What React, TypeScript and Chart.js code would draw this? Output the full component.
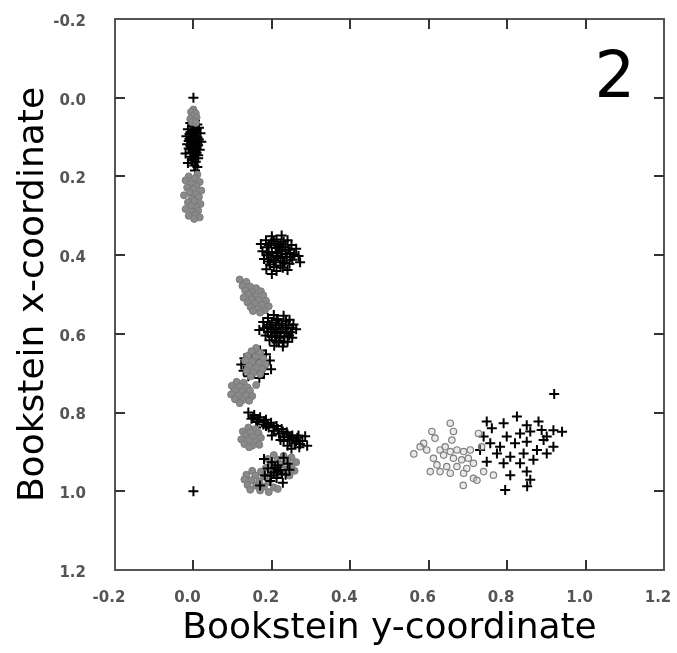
import React, { useEffect, useRef } from "react";
import { Chart, registerables } from "chart.js";

Chart.register(...registerables);

type P = [number, number];

// axis setup (both axes run -0.2 .. 1.2 in steps of 0.2; vertical axis reversed)
const AXIS_MIN = -0.2;
const AXIS_MAX = 1.2;
const AXIS_STEP = 0.2;
const xTitle = "Bookstein y-coordinate";
const yTitle = "Bookstein x-coordinate";
const panelLabel = "2";

// ---- black "+" specimens, [horizontal, vertical] ----
const crossSingles: P[] = [[0, 0], [0.004, 0.185], [0, 1.0]];

const crossLmA: P[] = [
  [0.004, 0.058], [-0.008, 0.064], [0.010, 0.068], [-0.002, 0.072], [0.014, 0.076], [-0.014, 0.080],
  [0.006, 0.083], [-0.006, 0.088], [0.018, 0.090], [0.000, 0.094], [-0.018, 0.098], [0.010, 0.101],
  [-0.010, 0.105], [0.004, 0.109], [0.020, 0.112], [-0.004, 0.115], [-0.016, 0.118], [0.012, 0.121],
  [0.002, 0.125], [-0.012, 0.129], [0.016, 0.132], [-0.002, 0.136], [0.008, 0.140], [-0.020, 0.142],
  [0.004, 0.146], [-0.008, 0.150], [0.012, 0.154], [-0.004, 0.158], [0.006, 0.163], [-0.014, 0.166],
  [0.002, 0.172], [0.010, 0.176],
  [0.000, 0.070], [0.008, 0.080], [-0.010, 0.092], [0.006, 0.096], [-0.006, 0.102], [0.014, 0.106],
  [0.000, 0.112], [-0.008, 0.122], [0.008, 0.128], [-0.006, 0.140], [0.012, 0.146], [0.000, 0.152],
  [-0.004, 0.130], [0.006, 0.116], [-0.012, 0.110], [0.004, 0.088],
];

const crossLmB: P[] = [
  [0.200, 0.352], [0.225, 0.350], [0.185, 0.362], [0.212, 0.360], [0.240, 0.362], [0.172, 0.372],
  [0.198, 0.370], [0.222, 0.372], [0.250, 0.374], [0.188, 0.380], [0.210, 0.382], [0.235, 0.380],
  [0.262, 0.384], [0.176, 0.390], [0.200, 0.392], [0.226, 0.390], [0.246, 0.394], [0.192, 0.400],
  [0.215, 0.402], [0.238, 0.404], [0.268, 0.402], [0.180, 0.410], [0.205, 0.412], [0.228, 0.414],
  [0.252, 0.412], [0.195, 0.424], [0.222, 0.426], [0.245, 0.422], [0.272, 0.418], [0.186, 0.436],
  [0.212, 0.440], [0.240, 0.438], [0.200, 0.448],
  [0.205, 0.365], [0.230, 0.366], [0.192, 0.375], [0.217, 0.377], [0.242, 0.386], [0.187, 0.394],
  [0.212, 0.395], [0.235, 0.397], [0.198, 0.406], [0.222, 0.407], [0.247, 0.405], [0.210, 0.418],
  [0.232, 0.420], [0.190, 0.416], [0.257, 0.398], [0.220, 0.385], [0.205, 0.430], [0.228, 0.432],
];

const crossLmD: P[] = [
  [0.205, 0.552], [0.230, 0.554], [0.190, 0.560], [0.215, 0.562], [0.245, 0.564], [0.178, 0.570],
  [0.200, 0.572], [0.225, 0.574], [0.255, 0.576], [0.188, 0.582], [0.210, 0.584], [0.236, 0.584],
  [0.168, 0.590], [0.198, 0.594], [0.222, 0.594], [0.248, 0.596], [0.262, 0.588], [0.184, 0.604],
  [0.208, 0.604], [0.232, 0.606], [0.252, 0.610], [0.194, 0.616], [0.218, 0.618], [0.240, 0.620],
  [0.206, 0.630], [0.228, 0.632],
  [0.212, 0.566], [0.236, 0.568], [0.195, 0.577], [0.218, 0.578], [0.242, 0.578], [0.204, 0.588],
  [0.228, 0.588], [0.252, 0.586], [0.190, 0.596], [0.214, 0.598], [0.238, 0.598], [0.200, 0.608],
  [0.222, 0.610], [0.244, 0.604], [0.212, 0.622], [0.180, 0.586], [0.230, 0.622],
];

const crossLmE: P[] = [
  [0.170, 0.642], [0.150, 0.650], [0.185, 0.652], [0.130, 0.662], [0.160, 0.664], [0.195, 0.668],
  [0.122, 0.678], [0.145, 0.680], [0.175, 0.682], [0.198, 0.690], [0.128, 0.694], [0.155, 0.698],
  [0.180, 0.702], [0.140, 0.708], [0.168, 0.712],
];

const crossLmG: P[] = [
  [0.140, 0.800], [0.155, 0.806], [0.148, 0.816], [0.170, 0.812], [0.162, 0.824], [0.185, 0.818],
  [0.178, 0.830], [0.198, 0.826], [0.192, 0.838], [0.212, 0.834], [0.205, 0.846], [0.225, 0.842],
  [0.218, 0.854], [0.238, 0.850], [0.232, 0.862], [0.252, 0.858], [0.245, 0.870], [0.265, 0.864],
  [0.258, 0.878], [0.278, 0.872], [0.285, 0.860], [0.270, 0.888], [0.240, 0.884], [0.222, 0.870],
  [0.290, 0.884], [0.200, 0.858], [0.160, 0.838], [0.250, 0.892],
  [0.152, 0.812], [0.166, 0.818], [0.180, 0.822], [0.190, 0.830], [0.205, 0.836], [0.215, 0.842],
  [0.228, 0.848], [0.240, 0.856], [0.252, 0.866], [0.262, 0.872], [0.272, 0.880], [0.230, 0.872],
  [0.185, 0.834], [0.245, 0.862], [0.268, 0.858],
];

const crossLmI: P[] = [
  [0.180, 0.918], [0.230, 0.915], [0.200, 0.926], [0.215, 0.934], [0.240, 0.930], [0.190, 0.942],
  [0.222, 0.946], [0.205, 0.952], [0.235, 0.958], [0.182, 0.960], [0.212, 0.966], [0.196, 0.974],
  [0.228, 0.978], [0.245, 0.945], [0.170, 0.985], [0.208, 0.940], [0.226, 0.956], [0.198, 0.960],
  [0.215, 0.950],
];

const crossRight: P[] = [
  [0.748, 0.823], [0.825, 0.810], [0.791, 0.827], [0.761, 0.840], [0.850, 0.832], [0.880, 0.823],
  [0.740, 0.861], [0.799, 0.861], [0.833, 0.853], [0.859, 0.848], [0.888, 0.844], [0.757, 0.878],
  [0.782, 0.887], [0.820, 0.878], [0.850, 0.874], [0.731, 0.895], [0.774, 0.904], [0.808, 0.912],
  [0.842, 0.904], [0.876, 0.895], [0.748, 0.925], [0.791, 0.929], [0.833, 0.929], [0.867, 0.920],
  [0.808, 0.959], [0.850, 0.950], [0.859, 0.971], [0.795, 0.997], [0.851, 0.987], [0.901, 0.861],
  [0.901, 0.904], [0.918, 0.845], [0.940, 0.849], [0.893, 0.870], [0.918, 0.887], [0.920, 0.753],
];

// ---- grey "o" specimens ----
const circLmAUpper: P[] = [
  [0.000, 0.030], [-0.006, 0.036], [0.006, 0.040], [-0.002, 0.046], [0.008, 0.050], [-0.008, 0.054],
  [0.002, 0.058], [-0.004, 0.062], [0.006, 0.064],
];

const circLmALower: P[] = [
  [0.010, 0.195], [-0.012, 0.200], [0.004, 0.205], [-0.020, 0.210], [0.016, 0.214], [-0.004, 0.218],
  [0.008, 0.224], [-0.016, 0.228], [0.000, 0.232], [0.020, 0.236], [-0.010, 0.240], [0.006, 0.245],
  [-0.024, 0.248], [0.014, 0.252], [-0.004, 0.256], [0.002, 0.262], [-0.014, 0.266], [0.018, 0.270],
  [-0.006, 0.274], [0.008, 0.279], [-0.020, 0.283], [0.012, 0.287], [-0.002, 0.291], [0.006, 0.296],
  [-0.012, 0.300], [0.016, 0.304], [0.002, 0.308],
];

const circLmC: P[] = [
  [0.118, 0.462], [0.135, 0.468], [0.125, 0.478], [0.145, 0.480], [0.160, 0.484], [0.132, 0.490],
  [0.150, 0.494], [0.172, 0.492], [0.140, 0.500], [0.158, 0.504], [0.178, 0.502], [0.128, 0.508],
  [0.148, 0.512], [0.166, 0.514], [0.185, 0.516], [0.138, 0.520], [0.156, 0.524], [0.175, 0.526],
  [0.192, 0.530], [0.146, 0.532], [0.164, 0.536], [0.182, 0.540], [0.170, 0.546], [0.152, 0.542],
];

const circLmE: P[] = [
  [0.160, 0.636], [0.148, 0.644], [0.170, 0.648], [0.138, 0.656], [0.158, 0.658], [0.178, 0.662],
  [0.132, 0.668], [0.150, 0.670], [0.168, 0.674], [0.184, 0.678], [0.142, 0.682], [0.160, 0.686],
  [0.176, 0.690], [0.136, 0.694], [0.152, 0.698], [0.170, 0.702], [0.146, 0.708],
];

const circLmF: P[] = [
  [0.110, 0.722], [0.128, 0.724], [0.098, 0.732], [0.118, 0.734], [0.138, 0.736], [0.160, 0.730],
  [0.104, 0.744], [0.124, 0.746], [0.144, 0.744], [0.096, 0.754], [0.114, 0.756], [0.134, 0.756],
  [0.150, 0.758], [0.106, 0.766], [0.126, 0.768], [0.142, 0.770], [0.118, 0.776],
];

const circLmH: P[] = [
  [0.140, 0.838], [0.158, 0.842], [0.126, 0.848], [0.146, 0.850], [0.166, 0.852], [0.132, 0.858],
  [0.152, 0.862], [0.172, 0.864], [0.122, 0.868], [0.140, 0.870], [0.160, 0.874], [0.130, 0.880],
  [0.150, 0.884], [0.168, 0.882], [0.142, 0.888],
];

const circLmI: P[] = [
  [0.205, 0.908], [0.230, 0.910], [0.250, 0.914], [0.190, 0.918], [0.215, 0.920], [0.240, 0.922],
  [0.262, 0.926], [0.200, 0.930], [0.225, 0.932], [0.250, 0.936], [0.185, 0.940], [0.210, 0.942],
  [0.236, 0.946], [0.258, 0.948], [0.220, 0.956], [0.245, 0.960], [0.200, 0.954],
  [0.150, 0.948], [0.172, 0.950], [0.135, 0.958], [0.158, 0.960], [0.182, 0.962], [0.130, 0.970],
  [0.148, 0.972], [0.168, 0.974], [0.192, 0.976], [0.138, 0.984], [0.160, 0.986], [0.180, 0.988],
  [0.205, 0.990], [0.145, 0.996], [0.170, 0.998], [0.192, 1.002], [0.215, 0.994],
];

const circRight: P[] = [
  [0.655, 0.827], [0.608, 0.848], [0.663, 0.848], [0.616, 0.865], [0.659, 0.870], [0.587, 0.878],
  [0.595, 0.895], [0.629, 0.895], [0.642, 0.887], [0.655, 0.899], [0.672, 0.895], [0.689, 0.899],
  [0.706, 0.895], [0.638, 0.908], [0.612, 0.916], [0.663, 0.916], [0.684, 0.920], [0.701, 0.916],
  [0.714, 0.929], [0.621, 0.933], [0.646, 0.937], [0.672, 0.937], [0.697, 0.942], [0.604, 0.950],
  [0.629, 0.950], [0.655, 0.954], [0.689, 0.954], [0.714, 0.967], [0.740, 0.950], [0.765, 0.959],
  [0.727, 0.853], [0.735, 0.887], [0.578, 0.887], [0.562, 0.905], [0.688, 0.985], [0.723, 0.972],
];

const toXY = (arr: P[]) => arr.map(([x, y]) => ({ x, y }));

const crossBack = [...crossSingles, ...crossLmA, ...crossLmB, ...crossLmD, ...crossLmE, ...crossLmG, ...crossRight];
const crossFront = [...crossLmI];
const circDense = [...circLmAUpper, ...circLmALower, ...circLmC, ...circLmE, ...circLmF, ...circLmH, ...circLmI];

const FONT = "'DejaVu Sans', 'Liberation Sans', sans-serif";

const fmt = (v: any) => {
  const n = Number(v);
  return (Math.abs(n) < 1e-9 ? 0 : n).toFixed(1);
};

const framePlugin = {
  id: "frameTicks",
  afterDatasetsDraw(chart: any) {
    const { ctx, chartArea: a, scales } = chart;
    const sx = scales.x;
    const sy = scales.y;
    ctx.save();
    ctx.strokeStyle = "#555";
    ctx.lineWidth = 2;
    ctx.strokeRect(a.left, a.top, a.right - a.left, a.bottom - a.top);
    const tl = 10;
    ctx.strokeStyle = "#333";
    ctx.lineWidth = 2;
    ctx.beginPath();
    sx.ticks.slice(1, -1).forEach((t: any) => {
      const px = Math.round(sx.getPixelForValue(t.value));
      ctx.moveTo(px, a.bottom);
      ctx.lineTo(px, a.bottom - tl);
      ctx.moveTo(px, a.top);
      ctx.lineTo(px, a.top + tl);
    });
    sy.ticks.slice(1, -1).forEach((t: any) => {
      const py = Math.round(sy.getPixelForValue(t.value));
      ctx.moveTo(a.left, py);
      ctx.lineTo(a.left + tl, py);
      ctx.moveTo(a.right, py);
      ctx.lineTo(a.right - tl, py);
    });
    ctx.stroke();
    ctx.fillStyle = "#000";
    ctx.font = `64px ${FONT}`;
    ctx.textAlign = "center";
    ctx.textBaseline = "alphabetic";
    ctx.fillText(panelLabel, sx.getPixelForValue(1.075), sy.getPixelForValue(0) - 1);
    ctx.restore();
  },
};

export default function App() {
  const ref = useRef<HTMLCanvasElement | null>(null);
  useEffect(() => {
    if (!ref.current) return;
    const chart = new Chart(ref.current, {
      type: "scatter",
      data: {
        datasets: [
          {
            data: toXY(crossFront),
            pointStyle: "cross",
            pointRadius: 5,
            borderColor: "#000",
            borderWidth: 2,
            backgroundColor: "#000",
          },
          {
            data: toXY(circDense),
            pointStyle: "circle",
            pointRadius: 3.5,
            borderColor: "#7a7a7a",
            borderWidth: 1,
            backgroundColor: "#8a8a8a",
          },
          {
            data: toXY(circRight),
            pointStyle: "circle",
            pointRadius: 3.2,
            borderColor: "#7f7f7f",
            borderWidth: 1.2,
            backgroundColor: "rgba(200,200,200,0.4)",
          },
          {
            data: toXY(crossBack),
            pointStyle: "cross",
            pointRadius: 5,
            borderColor: "#000",
            borderWidth: 2,
            backgroundColor: "#000",
          },
        ],
      },
      options: {
        animation: false,
        responsive: false,
        layout: { padding: { top: 19, right: 13, left: 0, bottom: 0 } },
        plugins: { legend: { display: false }, tooltip: { enabled: false } },
        scales: {
          x: {
            type: "linear",
            min: AXIS_MIN,
            max: AXIS_MAX,
            grid: { display: false, drawTicks: false },
            border: { display: false },
            ticks: {
              stepSize: AXIS_STEP,
              padding: 19,
              labelOffset: -6,
              color: "#555",
              font: { family: FONT, size: 15, weight: "bold" },
              callback: fmt,
            },
            title: {
              display: true,
              text: xTitle,
              color: "#000",
              font: { family: FONT, size: 36 },
              padding: { top: 0, bottom: 3 },
            },
            afterFit: (s: any) => {
              s.height = 83;
              s.paddingLeft = 0;
              s.paddingRight = 0;
            },
          },
          y: {
            type: "linear",
            reverse: true,
            min: AXIS_MIN,
            max: AXIS_MAX,
            grid: { display: false, drawTicks: false },
            border: { display: false },
            ticks: {
              stepSize: AXIS_STEP,
              padding: 29,
              labelOffset: 3,
              color: "#555",
              font: { family: FONT, size: 15, weight: "bold" },
              callback: fmt,
            },
            title: {
              display: true,
              text: yTitle,
              color: "#000",
              font: { family: FONT, size: 36 },
              padding: { top: 12, bottom: 0 },
            },
            afterFit: (s: any) => {
              s.width = 115;
              s.paddingTop = 0;
              s.paddingBottom = 0;
            },
          },
        },
      },
      plugins: [framePlugin],
    });
    return () => chart.destroy();
  }, []);
  return (
    <div style={{ position: "absolute", left: 0, top: 0, width: 677, height: 653, background: "#fff" }}>
      <canvas ref={ref} width={677} height={653} style={{ display: "block" }} />
    </div>
  );
}
